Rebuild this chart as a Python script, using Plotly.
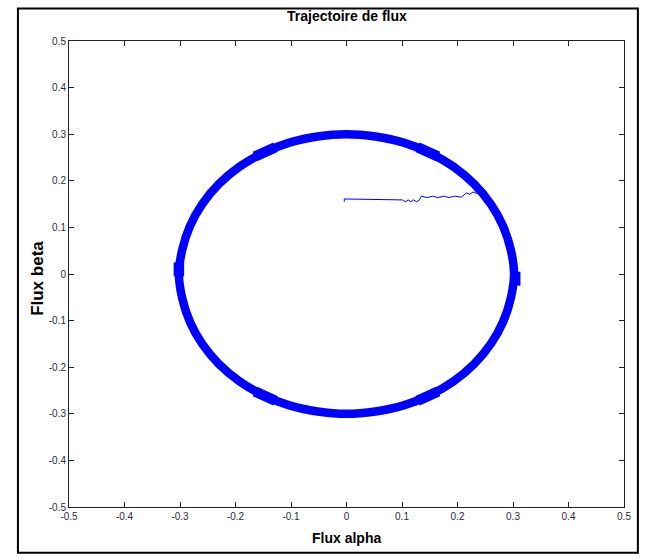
import plotly.graph_objects as go

# Steady-state stator flux locus (alpha/beta), sampled every 10 degrees
flux_alpha = [0.302, 0.296, 0.282, 0.260, 0.230, 0.193, 0.150, 0.103, 0.052, 0.000,
              -0.052, -0.103, -0.150, -0.193, -0.230, -0.260, -0.282, -0.296, -0.302,
              -0.296, -0.282, -0.260, -0.230, -0.193, -0.150, -0.103, -0.052, 0.000,
              0.052, 0.103, 0.150, 0.193, 0.230, 0.260, 0.282, 0.296, 0.302]
flux_beta = [0.000, 0.052, 0.103, 0.150, 0.193, 0.230, 0.260, 0.282, 0.295, 0.300,
             0.295, 0.282, 0.260, 0.230, 0.193, 0.150, 0.103, 0.052, 0.000,
             -0.052, -0.103, -0.150, -0.193, -0.230, -0.260, -0.282, -0.295, -0.300,
             -0.295, -0.282, -0.260, -0.230, -0.193, -0.150, -0.103, -0.052, 0.000]

# Start-up transient, from the initial flux point to the circular locus
start_alpha = [-0.004, -0.004, 0.101, 0.106, 0.111, 0.116, 0.121, 0.126, 0.131, 0.135,
               0.145, 0.155, 0.165, 0.175, 0.185, 0.195, 0.207, 0.212, 0.216, 0.222,
               0.228, 0.234, 0.240]
start_beta = [0.155, 0.161, 0.159, 0.155, 0.159, 0.155, 0.159, 0.155, 0.158, 0.167,
              0.164, 0.167, 0.164, 0.167, 0.164, 0.167, 0.165, 0.171, 0.174, 0.171,
              0.176, 0.173, 0.178]

# Sector-switching bulges on the locus (pairs of points, None separates segments)
bump_alpha = [0.128, 0.165, None, -0.128, -0.165, None, -0.302, -0.302, None,
              0.304, 0.304, None, -0.128, -0.165, None, 0.128, 0.165]
bump_beta = [0.272, 0.252, None, 0.272, 0.252, None, 0.025, -0.005, None,
             0.005, -0.025, None, -0.272, -0.252, None, -0.272, -0.252]

blue = "rgb(0,0,255)"

fig = go.Figure()
fig.add_trace(go.Scatter(x=flux_alpha, y=flux_beta, mode="lines",
                         line=dict(color=blue, width=8.5, shape="spline"),
                         showlegend=False, hoverinfo="skip"))
fig.add_trace(go.Scatter(x=bump_alpha, y=bump_beta, mode="lines",
                         line=dict(color=blue, width=10.5),
                         showlegend=False, hoverinfo="skip"))
fig.add_trace(go.Scatter(x=start_alpha, y=start_beta, mode="lines",
                         line=dict(color=blue, width=1),
                         showlegend=False, hoverinfo="skip"))

tick_vals = [-0.5, -0.4, -0.3, -0.2, -0.1, 0, 0.1, 0.2, 0.3, 0.4, 0.5]
tick_text = ["-0.5", "-0.4", "-0.3", "-0.2", "-0.1", "0", "0.1", "0.2", "0.3", "0.4", "0.5"]

axis_common = dict(
    tickvals=tick_vals, ticktext=tick_text,
    showgrid=False, zeroline=False,
    showline=True, linecolor="#222", linewidth=1, mirror="ticks",
    ticks="inside", ticklen=5, tickcolor="#222",
    tickfont=dict(family="Liberation Sans", size=10, color="#2a2a3a"),
)

fig.update_layout(
    width=646, height=559,
    paper_bgcolor="white", plot_bgcolor="white",
    margin=dict(l=69, r=22, t=41, b=52),
    xaxis=dict(range=[-0.5, 0.5], **axis_common),
    yaxis=dict(range=[-0.5, 0.5], **axis_common),
    shapes=[dict(type="rect", xref="paper", yref="paper",
                 x0=-0.092, x1=1.025, y0=-0.098, y1=1.07,
                 line=dict(color="black", width=2))],
    annotations=[
        dict(text="<b>Trajectoire de flux</b>", xref="paper", yref="paper",
             x=0.5, y=1.076, yanchor="top", showarrow=False,
             font=dict(family="Liberation Sans", size=14, color="black")),
        dict(text="<b>Flux alpha</b>", xref="paper", yref="paper",
             x=0.5, y=-0.045, yanchor="top", showarrow=False,
             font=dict(family="Liberation Sans", size=14, color="black")),
        dict(text="<b>Flux beta</b>", xref="paper", yref="paper",
             x=-0.078, y=0.49, textangle=-90, showarrow=False,
             font=dict(family="Liberation Sans", size=17, color="black")),
    ],
)

fig.write_html("out.html")
